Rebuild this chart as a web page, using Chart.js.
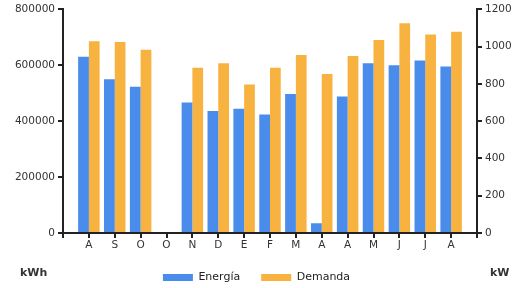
<!DOCTYPE html>
<html>
<head>
<meta charset="utf-8">
<script src="https://cdn.jsdelivr.net/npm/chart.js@4.4.0/dist/chart.umd.min.js"></script>
<style>
  html, body { margin: 0; padding: 0; background: #fff; }
  #wrap { position: relative; width: 513px; height: 288px; overflow: hidden; }
  .unit { position: absolute; font-family: "DejaVu Sans", sans-serif; font-size: 11px; font-weight: bold; color: #333; }
</style>
</head>
<body>
<div id="wrap">
  <canvas id="c" width="513" height="288"></canvas>
  <span class="unit" style="left:20px; top:266px;">kWh</span>
  <span class="unit" style="left:490px; top:266px;">kW</span>
</div>
<script>
// Categories (blank at each end gives the one-band margin seen in the reference)
const months = ['', 'A', 'S', 'O', 'O', 'N', 'D', 'E', 'F', 'M', 'A', 'A', 'M', 'J', 'J', 'A', ''];
// Energía (kWh, left axis)
const energia = [null, 630000, 550000, 523000, null, 467000, 436000, 444000, 424000, 497000, 35000, 488000, 607000, 600000, 617000, 595000, null];
// Demanda (kW, right axis)
const demanda = [null, 1029, 1024, 983, null, 887, 910, 796, 887, 955, 853, 949, 1035, 1125, 1065, 1079, null];
// Tick settings
const leftMax = 800000, leftStep = 200000;
const rightMax = 1200, rightStep = 200;

const axisColor = '#222';
const tickFont = { family: '"DejaVu Sans", sans-serif', size: 10.5 };

new Chart(document.getElementById('c'), {
  type: 'bar',
  data: {
    labels: months,
    datasets: [
      { label: 'Energía', data: energia, backgroundColor: '#4A8CEB', yAxisID: 'y', barPercentage: 1, categoryPercentage: 0.83 },
      { label: 'Demanda', data: demanda, backgroundColor: '#F8B23F', yAxisID: 'y1', barPercentage: 1, categoryPercentage: 0.83 }
    ]
  },
  options: {
    responsive: false,
    devicePixelRatio: 1,
    animation: false,
    layout: { padding: { top: 8, bottom: -5, left: 0, right: 0 } },
    plugins: {
      tooltip: { enabled: false },
      legend: {
        position: 'bottom',
        labels: {
          boxWidth: 30, boxHeight: 7, padding: 21,
          color: '#222',
          font: { family: '"DejaVu Sans", sans-serif', size: 11 }
        }
      }
    },
    scales: {
      x: {
        offset: false,
        grid: { display: true, drawOnChartArea: false, drawTicks: true, tickLength: 5, tickColor: axisColor, tickWidth: 2, color: axisColor, lineWidth: 2, offset: false },
        border: { display: true, color: axisColor, width: 2 },
        ticks: { autoSkip: false, maxRotation: 0, padding: 1, color: '#333', font: tickFont },
        afterFit: s => { s.height = 18; }
      },
      y: {
        position: 'left',
        min: 0, max: leftMax,
        grid: { display: true, drawOnChartArea: false, drawTicks: true, tickLength: 5, tickColor: axisColor, tickWidth: 2, color: axisColor, lineWidth: 2 },
        border: { display: true, color: axisColor, width: 2 },
        ticks: { stepSize: leftStep, padding: 3, color: '#333', font: tickFont, callback: v => String(v) },
        afterFit: s => { s.width = 63; }
      },
      y1: {
        position: 'right',
        min: 0, max: rightMax,
        grid: { display: true, drawOnChartArea: false, drawTicks: true, tickLength: 5, tickColor: axisColor, tickWidth: 2, color: axisColor, lineWidth: 2 },
        border: { display: true, color: axisColor, width: 2 },
        ticks: { stepSize: rightStep, padding: 3, color: '#333', font: tickFont, callback: v => String(v) },
        afterFit: s => { s.width = 36; }
      }
    }
  }
});
</script>
</body>
</html>
